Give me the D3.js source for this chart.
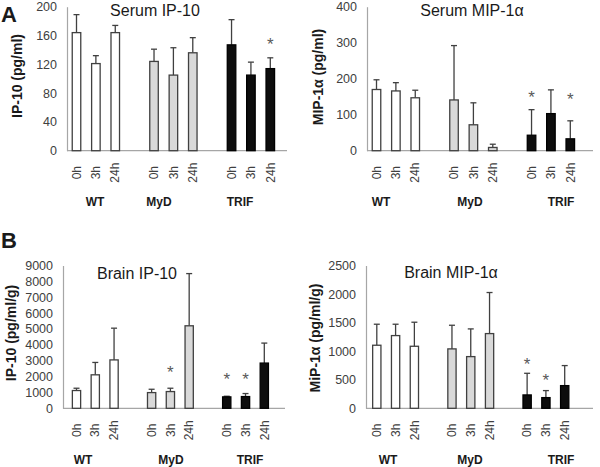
<!DOCTYPE html>
<html><head><meta charset="utf-8">
<script src="https://cdn.jsdelivr.net/npm/d3@7"></script>
<style>body{margin:0;background:#fff}svg{display:block}text{font-family:"Liberation Sans",Arial,sans-serif}</style>
</head><body>
<svg id="c" width="600" height="467"></svg>
<script>
// ---- data ----
const groups = ["WT", "MyD", "TRIF"];
const times = ["0h", "3h", "24h"];

const serumIP10Mean = [164, 121, 164, 124, 105, 136, 147, 105, 114];
const serumIP10Sd   = [25, 11, 10, 17, 38, 21, 35, 18, 15];
const serumIP10Ticks = [0, 40, 80, 120, 160, 200];
const serumIP10Stars = [["TRIF", "24h", 153]];

const serumMIPMean = [170, 166, 147, 141, 72, 9, 43, 103, 33];
const serumMIPSd   = [27, 23, 21, 151, 61, 9, 71, 66, 50];
const serumMIPTicks = [0, 100, 200, 300, 400];
const serumMIPStars = [["TRIF", "0h", 157], ["TRIF", "24h", 152]];

const brainIP10Mean = [1120, 2110, 3050, 990, 1055, 5200, 720, 740, 2850];
const brainIP10Sd   = [145, 780, 2000, 210, 210, 3290, 40, 190, 1260];
const brainIP10Ticks = [0, 1000, 2000, 3000, 4000, 5000, 6000, 7000, 8000, 9000];
const brainIP10Stars = [["MyD", "3h", 2466], ["TRIF", "0h", 2042], ["TRIF", "3h", 2042]];

const brainMIPMean = [1104, 1273, 1086, 1040, 905, 1308, 234, 187, 397];
const brainMIPSd   = [368, 199, 421, 414, 485, 719, 379, 123, 351];
const brainMIPTicks = [0, 500, 1000, 1500, 2000, 2500];
const brainMIPStars = [["TRIF", "0h", 836], ["TRIF", "3h", 555]];

// ---- layout / style ----
const fills = {WT: "#ffffff", MyD: "#d9d9d9", TRIF: "#0d0d0d"};
const slots = [];
groups.forEach((g, gi) => {
  times.forEach(t => slots.push(g + "|" + t));
  if (gi < groups.length - 1) slots.push("gap" + gi);
});

const panels = [
  {title: "Serum IP-10", ylab: "IP-10 (pg/ml)", mean: serumIP10Mean, sd: serumIP10Sd, ticks: serumIP10Ticks, stars: serumIP10Stars,
   L: {ax: 67, xEnd: 287, s0: 76.5, st: 19.38, yT: 6.7, yB: 150.7, tx: 155, ty: 16, lx: 17, ly: 76, gx: [95, 159, 240], gy: 206}},
  {title: "Serum MIP-1\u03b1", ylab: "MIP-1\u03b1 (pg/ml)", mean: serumMIPMean, sd: serumMIPSd, ticks: serumMIPTicks, stars: serumMIPStars,
   L: {ax: 367, xEnd: 593, s0: 376.5, st: 19.38, yT: 6.7, yB: 150.7, tx: 472, ty: 16, lx: 318, ly: 77, gx: [381, 470, 561], gy: 206}},
  {title: "Brain IP-10", ylab: "IP-10 (pg/ml/g)", mean: brainIP10Mean, sd: brainIP10Sd, ticks: brainIP10Ticks, stars: brainIP10Stars,
   L: {ax: 63, xEnd: 285, s0: 76.5, st: 18.78, yT: 265.5, yB: 408.3, tx: 137, ty: 279, lx: 11, ly: 333, gx: [83, 171, 250], gy: 464}},
  {title: "Brain MIP-1\u03b1", ylab: "MiP-1\u03b1 (pg/ml/g)", mean: brainMIPMean, sd: brainMIPSd, ticks: brainMIPTicks, stars: brainMIPStars,
   L: {ax: 366, xEnd: 593, s0: 376.8, st: 18.79, yT: 265.5, yB: 408.3, tx: 451, ty: 278, lx: 315, ly: 338, gx: [388, 470, 561], gy: 464}}
];

const svg = d3.select("#c");
const axisCol = "#a6a6a6", ink = "#404040";

panels.forEach(p => {
  const L = p.L;
  const x0 = L.s0 - L.st / 2;
  const x = d3.scaleBand().domain(slots).range([x0, x0 + slots.length * L.st]).paddingInner(0.56).paddingOuter(0.28);
  const y = d3.scaleLinear().domain([0, p.ticks[p.ticks.length - 1]]).range([L.yB, L.yT]);
  const g = svg.append("g");

  // y axis
  const ya = g.append("g").attr("transform", `translate(${L.ax},0)`)
    .call(d3.axisLeft(y).tickValues(p.ticks).tickFormat(d3.format("d")).tickSize(0).tickPadding(10));
  ya.select(".domain").attr("stroke", axisCol).attr("stroke-width", 1.2);
  ya.selectAll("text").attr("font-size", 12.5).attr("fill", ink).attr("font-family", "Liberation Sans, Arial, sans-serif");

  // x axis
  const xa = g.append("g").attr("transform", `translate(0,${L.yB})`)
    .call(d3.axisBottom(x).tickSize(0).tickFormat(k => k.startsWith("gap") ? "" : k.split("|")[1]));
  xa.select(".domain").remove();
  xa.selectAll("text").attr("transform", "rotate(-90)").attr("x", -22).attr("y", 0).attr("dy", "0.35em")
    .attr("text-anchor", "middle").attr("font-size", 12).attr("fill", ink).attr("font-family", "Liberation Sans, Arial, sans-serif");
  g.append("line").attr("x1", L.ax).attr("x2", L.xEnd).attr("y1", L.yB).attr("y2", L.yB)
    .attr("stroke", axisCol).attr("stroke-width", 1.2);

  // bars
  const rows = [];
  groups.forEach((gr, gi) => times.forEach((t, ti) => {
    const i = gi * 3 + ti;
    rows.push({k: gr + "|" + t, g: gr, m: p.mean[i], s: p.sd[i]});
  }));
  const bw = x.bandwidth();
  g.selectAll("line.err").data(rows).enter().append("line").attr("class", "err")
    .attr("x1", d => x(d.k) + bw / 2).attr("x2", d => x(d.k) + bw / 2)
    .attr("y1", d => y(d.m)).attr("y2", d => y(d.m + d.s))
    .attr("stroke", ink).attr("stroke-width", 1.3);
  g.selectAll("line.cap").data(rows).enter().append("line").attr("class", "cap")
    .attr("x1", d => x(d.k) + bw / 2 - 3).attr("x2", d => x(d.k) + bw / 2 + 3)
    .attr("y1", d => y(d.m + d.s)).attr("y2", d => y(d.m + d.s))
    .attr("stroke", ink).attr("stroke-width", 1.3);
  g.selectAll("rect").data(rows).enter().append("rect")
    .attr("x", d => x(d.k)).attr("width", bw)
    .attr("y", d => y(d.m)).attr("height", d => L.yB - y(d.m))
    .attr("fill", d => fills[d.g]).attr("stroke", d => d.g === "TRIF" ? "#000" : ink).attr("stroke-width", 1.3);

  // stars
  g.selectAll("text.star").data(p.stars).enter().append("text").attr("class", "star")
    .attr("x", d => x(d[0] + "|" + d[1]) + bw / 2).attr("y", d => y(d[2]) + 9)
    .attr("text-anchor", "middle").attr("font-size", 17).attr("fill", "#595959").text("*");

  // title
  g.append("text").attr("x", L.tx).attr("y", L.ty).attr("text-anchor", "middle")
    .attr("font-size", 16).attr("fill", "#1a1a1a").text(p.title);
  // y label
  g.append("text").attr("transform", `translate(${L.lx},${L.ly}) rotate(-90)`).attr("dy", "0.35em")
    .attr("text-anchor", "middle").attr("font-size", 14).attr("font-weight", "bold").attr("fill", "#1a1a1a").text(p.ylab);
  // group labels
  groups.forEach((gr, gi) => {
    g.append("text").attr("x", L.gx[gi]).attr("y", L.gy).attr("text-anchor", "middle")
      .attr("font-size", 12).attr("font-weight", "bold").attr("fill", "#1a1a1a").text(gr);
  });
});

svg.append("text").attr("x", 1).attr("y", 22).attr("font-size", 22).attr("font-weight", "bold").attr("fill", "#1a1a1a").text("A");
svg.append("text").attr("x", 1).attr("y", 248).attr("font-size", 22).attr("font-weight", "bold").attr("fill", "#1a1a1a").text("B");
</script>
</body></html>
